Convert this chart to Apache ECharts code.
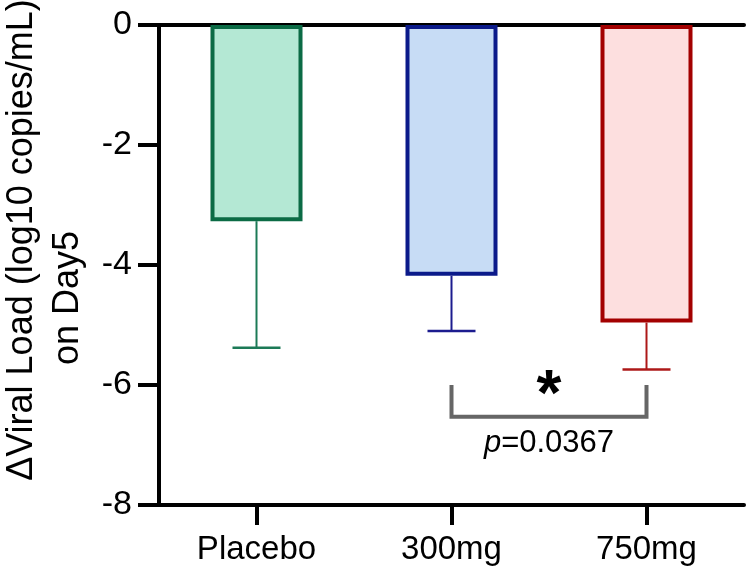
<!DOCTYPE html>
<html>
<head>
<meta charset="utf-8">
<script src="https://cdn.jsdelivr.net/npm/echarts@6/dist/echarts.min.js"></script>
<style>
  html, body { margin: 0; padding: 0; background: #fff; }
  #main { width: 746px; height: 570px; }
</style>
</head>
<body>
<div id="main"></div>
<script>
// groups and values
const groups = ['Placebo', '300mg', '750mg']
const means = [-3.27, -4.18, -4.96]
const errLow = [-5.38, -5.1, -5.74]
const yTicks = [0, -2, -4, -6, -8]

// significance bracket between 300mg and 750mg
const bracketFrom = 1
const bracketTo = 2
const bracketTop = -6.0
const bracketBottom = -6.53
const pLabel = '0.0367'

const fills = ['#b4e8d4', '#c7dcf5', '#fddfdf']
const borders = ['#0b6b45', '#0b1a8a', '#a30000']
const errColors = ['#1c7a57', '#1c1c8f', '#ad1818']

const font = 'Liberation Sans, Arial, sans-serif'

const myChart = echarts.init(document.getElementById('main'))

const options = {
  animation: false,
  grid: { left: 159, right: 2, top: 25, bottom: 65 },
  xAxis: [{
    type: 'category',
    data: groups,
    position: 'bottom',
    axisLine: { show: true, onZero: false, lineStyle: { color: '#000', width: 4 } },
    axisTick: { show: true, interval: 0, alignWithLabel: true, length: 20, lineStyle: { color: '#000', width: 4 } },
    axisLabel: { color: '#000', fontSize: 33, fontFamily: font, margin: 28, interval: 0 }
  }, {
    type: 'category',
    data: groups,
    position: 'top',
    axisLine: { show: true, onZero: false, lineStyle: { color: '#000', width: 4 } },
    axisTick: { show: false },
    axisLabel: { show: false }
  }],
  yAxis: {
    type: 'value',
    min: yTicks[yTicks.length - 1],
    max: yTicks[0],
    interval: 2,
    splitLine: { show: false },
    axisLine: { show: true, lineStyle: { color: '#000', width: 4 } },
    axisTick: { show: true, length: 21, lineStyle: { color: '#000', width: 4 } },
    axisLabel: { color: '#000', fontSize: 34, fontFamily: font, margin: 27 }
  },
  graphic: [{
    type: 'text',
    x: 22,
    y: 240,
    rotation: Math.PI / 2,
    style: {
      text: 'ΔViral Load (log10 copies/mL)',
      fontSize: 36, fontFamily: font, fill: '#000',
      textAlign: 'center', textVerticalAlign: 'middle'
    }
  }, {
    type: 'text',
    x: 68,
    y: 298,
    rotation: Math.PI / 2,
    style: {
      text: 'on Day5',
      fontSize: 36, fontFamily: font, fill: '#000',
      textAlign: 'center', textVerticalAlign: 'middle'
    }
  }],
  series: [{
    type: 'bar',
    barWidth: 92,
    data: means.map((v, i) => ({
      value: v,
      itemStyle: { color: fills[i], borderColor: borders[i], borderWidth: 4 }
    }))
  }, {
    // error bars
    type: 'custom',
    z: 1,
    data: means.map((v, i) => [i, v, errLow[i]]),
    renderItem(params, api) {
      const i = api.value(0)
      const top = api.coord([i, api.value(1)])
      const low = api.coord([i, api.value(2)])
      const c = errColors[params.dataIndex]
      return {
        type: 'group',
        children: [{
          type: 'line',
          shape: { x1: top[0], y1: top[1], x2: low[0], y2: low[1] },
          style: { stroke: c, lineWidth: 2 }
        }, {
          type: 'line',
          shape: { x1: low[0] - 24, y1: low[1], x2: low[0] + 24, y2: low[1] },
          style: { stroke: c, lineWidth: 2.5 }
        }]
      }
    }
  }, {
    // significance bracket
    type: 'custom',
    data: [[bracketFrom, bracketTo, bracketTop, bracketBottom]],
    renderItem(params, api) {
      const a = api.coord([api.value(0), api.value(2)])
      const b = api.coord([api.value(0), api.value(3)])
      const c = api.coord([api.value(1), api.value(3)])
      const d = api.coord([api.value(1), api.value(2)])
      const mid = (a[0] + d[0]) / 2
      return {
        type: 'group',
        children: [{
          type: 'polyline',
          shape: { points: [a, b, c, d] },
          style: { stroke: '#666', lineWidth: 4, fill: null }
        }, {
          type: 'text',
          x: mid,
          y: a[1] + 12,
          style: {
            text: '*', fontSize: 64, fontWeight: 'bold', fontFamily: font, fill: '#000',
            textAlign: 'center', textVerticalAlign: 'middle'
          }
        }, {
          type: 'text',
          x: mid,
          y: b[1] + 27,
          style: {
            text: '{i|p}=' + pLabel,
            fontSize: 31, fontFamily: font, fill: '#000',
            textAlign: 'center', textVerticalAlign: 'middle',
            rich: { i: { fontStyle: 'italic', fontSize: 31, fontFamily: font } }
          }
        }]
      }
    }
  }]
}

myChart.setOption(options)
</script>
</body>
</html>
